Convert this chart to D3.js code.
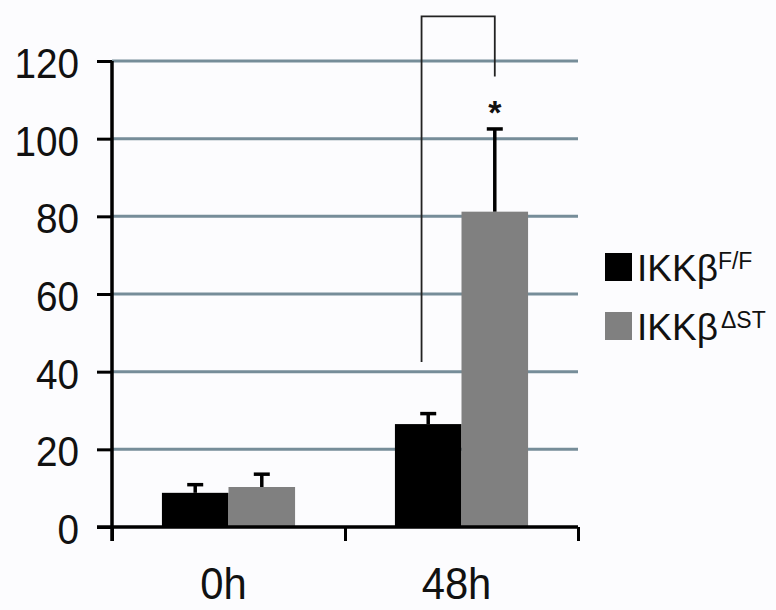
<!DOCTYPE html>
<html>
<head>
<meta charset="utf-8">
<script src="https://cdn.jsdelivr.net/npm/d3@7"></script>
<style>
  body { margin: 0; background: #fcfcfe; }
  text { font-family: "Liberation Sans", Arial, sans-serif; fill: #111; }
</style>
</head>
<body>
<div id="chart"></div>
<script>
const categories = ["0h", "48h"];
const series = ["F/F", "ΔST"];
const means = {
    "F/F": [8.8, 26.5],
    "ΔST": [10.3, 81.2]
};
const errors = {
    "F/F": [2.1, 2.7],
    "ΔST": [3.3, 21.3]
};
const yTicks = [0, 20, 40, 60, 80, 100, 120];
// significance bracket, in data units (left foot, top, right foot) and star
const bracketLevels = [42.5, 131.5, 116];
const starLevel = 110;

const colors = { "F/F": "#000000", "ΔST": "#808080" };
const gridColor = "#768d99";

const W = 776, H = 610;
const plotLeft = 112, plotRight = 578, plotTop = 61, plotBottom = 527;

const svg = d3.select("#chart")
    .append("svg")
    .attr("width", W)
    .attr("height", H);

const y = d3.scaleLinear().domain([0, 120]).range([plotBottom, plotTop]);
const x0 = d3.scaleBand().domain(categories).range([plotLeft, plotRight]);
const x1 = d3.scaleBand().domain(series)
    .range([0, x0.bandwidth()])
    .paddingInner(0)
    .paddingOuter(0.75);
const xEdges = d3.scaleLinear().domain([0, categories.length]).range([plotLeft, plotRight]);

// gridlines
svg.append("g")
    .selectAll("line")
    .data(yTicks.filter(t => t > 0))
    .join("line")
    .attr("x1", plotLeft)
    .attr("x2", plotRight)
    .attr("y1", d => y(d))
    .attr("y2", d => y(d))
    .style("stroke", gridColor)
    .style("stroke-width", 3);

// bars
const rows = [];
categories.forEach((c, i) => {
    series.forEach(s => rows.push({ cat: c, s: s, v: means[s][i], e: errors[s][i] }));
});

svg.append("g")
    .selectAll("rect")
    .data(rows)
    .join("rect")
    .attr("x", d => x0(d.cat) + x1(d.s))
    .attr("y", d => y(d.v))
    .attr("width", x1.bandwidth())
    .attr("height", d => y(0) - y(d.v))
    .style("fill", d => colors[d.s]);

// error bars (upper only)
const err = svg.append("g").style("stroke", "#000").style("stroke-width", 3.5);
err.selectAll(".stem")
    .data(rows)
    .join("line")
    .attr("class", "stem")
    .attr("x1", d => x0(d.cat) + x1(d.s) + x1.bandwidth() / 2)
    .attr("x2", d => x0(d.cat) + x1(d.s) + x1.bandwidth() / 2)
    .attr("y1", d => y(d.v))
    .attr("y2", d => y(d.v + d.e));
err.selectAll(".cap")
    .data(rows)
    .join("line")
    .attr("class", "cap")
    .attr("x1", d => x0(d.cat) + x1(d.s) + x1.bandwidth() / 2 - 8)
    .attr("x2", d => x0(d.cat) + x1(d.s) + x1.bandwidth() / 2 + 8)
    .attr("y1", d => y(d.v + d.e))
    .attr("y2", d => y(d.v + d.e));

// y axis
const yAxis = svg.append("g")
    .attr("transform", `translate(${plotLeft},0)`)
    .call(d3.axisLeft(y).tickValues(yTicks).tickSize(15).tickSizeOuter(0).tickPadding(18));
yAxis.select(".domain").remove();
yAxis.selectAll(".tick line").style("stroke", "#000").style("stroke-width", 3);
yAxis.selectAll(".tick text")
    .style("font-size", "43px")
    .attr("dy", "0.38em")
    .attr("transform", function () {
        const tx = +d3.select(this).attr("x");
        return `translate(${tx},0) scale(0.9,1) translate(${-tx},0)`;
    });
svg.append("line")
    .attr("x1", plotLeft).attr("x2", plotLeft)
    .attr("y1", y(120)).attr("y2", plotBottom + 14)
    .style("stroke", "#000").style("stroke-width", 3.5);

// x axis
const xAxis = svg.append("g")
    .attr("transform", `translate(0,${plotBottom})`)
    .call(d3.axisBottom(xEdges).tickValues(d3.range(categories.length + 1)).tickSize(14).tickSizeOuter(0).tickFormat(""));
xAxis.select(".domain").remove();
xAxis.selectAll(".tick line").style("stroke", "#000").style("stroke-width", 3);
svg.append("line")
    .attr("x1", plotLeft - 15).attr("x2", plotRight)
    .attr("y1", plotBottom).attr("y2", plotBottom)
    .style("stroke", "#000").style("stroke-width", 3.5);

svg.append("g")
    .selectAll("text")
    .data(categories)
    .join("text")
    .attr("text-anchor", "middle")
    .attr("transform", d => `translate(${x0(d) + x0.bandwidth() / 2 - 5},${plotBottom + 72}) scale(0.95,1)`)
    .style("font-size", "44px")
    .text(d => d);

// significance bracket
const bxLeft = x0("48h") + x1("F/F") + x1.bandwidth() * 0.4;
const bxRight = x0("48h") + x1("ΔST") + x1.bandwidth() / 2;
svg.append("path")
    .attr("d", d3.line()([
        [bxLeft, y(bracketLevels[0])],
        [bxLeft, y(bracketLevels[1])],
        [bxRight, y(bracketLevels[1])],
        [bxRight, y(bracketLevels[2])]
    ]))
    .style("fill", "none")
    .style("stroke", "#222")
    .style("stroke-width", 1.8);
svg.append("text")
    .attr("x", bxRight)
    .attr("y", y(starLevel))
    .attr("dy", "0.7em")
    .attr("text-anchor", "middle")
    .style("font-size", "34px")
    .style("font-weight", "bold")
    .text("*");

// legend
const legend = svg.append("g")
    .selectAll("g")
    .data(series)
    .join("g")
    .attr("transform", (d, i) => `translate(605,${253 + i * 59})`);
legend.append("rect")
    .attr("width", 27)
    .attr("height", 28)
    .style("fill", d => colors[d]);
const lt = legend.append("text")
    .attr("x", 32)
    .attr("y", 28)
    .style("font-size", "37px");
lt.append("tspan").text("IKKβ");
lt.append("tspan")
    .attr("dx", d => d === "ΔST" ? 3 : 0)
    .attr("dy", -12)
    .style("font-size", "23px")
    .text(d => d);
</script>
</body>
</html>
